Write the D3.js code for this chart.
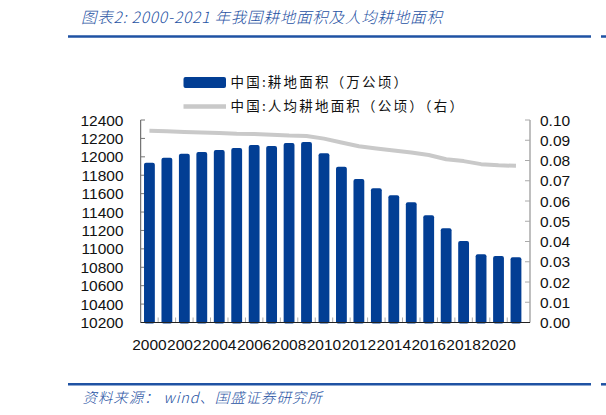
<!DOCTYPE html>
<html>
<head>
<meta charset="utf-8" />
<title></title>
<style>
html, body {
    padding: 0px;
    margin: 0px;
    background: #fff;
}
#chart {
    width: 606px;
    height: 415px;
}
.num {
    font-family: "Liberation Sans", Arial, sans-serif;
    font-size: 15.5px;
    fill: #111;
}
.cjk {
    font-family: "Noto Sans CJK SC", sans-serif;
}
</style>
</head>
<body>
<div id="chart"></div>

<script src="https://cdn.jsdelivr.net/npm/d3@7/dist/d3.min.js"></script>
<script>
// 数据
var years = ["2000","2001","2002","2003","2004","2005","2006","2007","2008","2009","2010",
             "2011","2012","2013","2014","2015","2016","2017","2018","2019","2020","2021"];
// 耕地面积（万公顷）
var landArea = [11936, 11990, 12034, 12052, 12074, 12096, 12128, 12117, 12150, 12161, 12038,
                11893, 11759, 11658, 11582, 11506, 11365, 11224, 11085, 10941, 10922, 10909];
// 人均耕地面积（公顷）
var perCapita = [0.0947, 0.0944, 0.0941, 0.0938, 0.0936, 0.0932, 0.0931, 0.0927, 0.0923, 0.0921, 0.0908,
                 0.0889, 0.0870, 0.0859, 0.0849, 0.0839, 0.0827, 0.0806, 0.0797, 0.0782, 0.0776, 0.0774];
var leftTicks = [10200, 10400, 10600, 10800, 11000, 11200, 11400, 11600, 11800, 12000, 12200, 12400];
var rightTicks = [0, 0.01, 0.02, 0.03, 0.04, 0.05, 0.06, 0.07, 0.08, 0.09, 0.10];
var xLabels = ["2000","2002","2004","2006","2008","2010","2012","2014","2016","2018","2020"];
var legendNames = ["中国:耕地面积（万公顷）", "中国:人均耕地面积（公顷）（右）"];
var titleText = "图表2:  2000-2021 年我国耕地面积及人均耕地面积";
var sourceText = "资料来源： wind、国盛证券研究所";

!(function(){
    "use strict";

    var blue = "#023e94",
        ruleBlue = "#1f52a3",
        gray = "#c9c9c9";

    var svg = d3.select("#chart").append("svg")
        .attr("width", 606)
        .attr("height", 415);

    var x = d3.scaleBand()
        .domain(years)
        .range([140.7, 524.7])
        .paddingInner(0.38)
        .paddingOuter(0.19);

    var yL = d3.scaleLinear().domain([10200, 12400]).range([322.5, 120]);
    var yR = d3.scaleLinear().domain([0, 0.10]).range([322.5, 120]);

    drawFrame();
    drawAxes();
    drawBars();
    drawLine();
    drawLegend();

    function drawFrame() {
        svg.append("text")
            .attr("class", "cjk")
            .attr("x", 81)
            .attr("y", 22.5)
            .style("font-size", "15.5px")
            .style("font-style", "italic")
            .style("font-weight", 300)
            .style("letter-spacing", "0.8px")
            .style("fill", ruleBlue)
            .text(titleText);

        [36.5, 384.3].forEach(function(yy) {
            svg.append("line")
                .attr("x1", 68).attr("x2", 591)
                .attr("y1", yy).attr("y2", yy)
                .attr("stroke", ruleBlue).attr("stroke-width", 2.5);
            svg.append("line")
                .attr("x1", 601).attr("x2", 606)
                .attr("y1", yy).attr("y2", yy)
                .attr("stroke", ruleBlue).attr("stroke-width", 2.5);
        });

        svg.append("text")
            .attr("class", "cjk")
            .attr("x", 82.5)
            .attr("y", 402.5)
            .style("font-size", "14.5px")
            .style("font-style", "italic")
            .style("font-weight", 300)
            .style("letter-spacing", "0.9px")
            .style("fill", ruleBlue)
            .text(sourceText);
    }

    function drawAxes() {
        // left
        svg.append("line")
            .attr("x1", 140.7).attr("x2", 140.7)
            .attr("y1", yL(12400)).attr("y2", yL(10200))
            .attr("stroke", "#555");
        svg.selectAll(".ltick")
            .data(leftTicks)
            .enter().append("line")
            .attr("x1", 140.7).attr("x2", 145)
            .attr("y1", function(d){ return yL(d); })
            .attr("y2", function(d){ return yL(d); })
            .attr("stroke", "#777");
        svg.selectAll(".llab")
            .data(leftTicks)
            .enter().append("text")
            .attr("class", "num")
            .attr("x", 123.5)
            .attr("y", function(d){ return yL(d); })
            .attr("dy", "0.36em")
            .attr("text-anchor", "end")
            .text(function(d){ return d; });

        // right
        svg.append("line")
            .attr("x1", 530).attr("x2", 530)
            .attr("y1", yR(0.10)).attr("y2", yR(0))
            .attr("stroke", "#aaa").attr("stroke-width", 1.5);
        svg.selectAll(".rtick")
            .data(rightTicks)
            .enter().append("line")
            .attr("x1", 525).attr("x2", 530)
            .attr("y1", function(d){ return yR(d); })
            .attr("y2", function(d){ return yR(d); })
            .attr("stroke", "#aaa");
        svg.selectAll(".rlab")
            .data(rightTicks)
            .enter().append("text")
            .attr("class", "num")
            .attr("x", 540)
            .attr("y", function(d){ return yR(d); })
            .attr("dy", "0.36em")
            .text(d3.format(".2f"));

        // bottom
        var step = x.step();
        svg.selectAll(".btick")
            .data(years.slice(1))
            .enter().append("line")
            .attr("x1", function(d){ return x(d) - (step - x.bandwidth()) / 2; })
            .attr("x2", function(d){ return x(d) - (step - x.bandwidth()) / 2; })
            .attr("y1", yL(10200) - 5).attr("y2", yL(10200))
            .attr("stroke", "#aaa");

        svg.selectAll(".xlab")
            .data(xLabels)
            .enter().append("text")
            .attr("class", "num")
            .attr("x", function(d){ return x(d) + x.bandwidth() / 2; })
            .attr("y", 350)
            .attr("text-anchor", "middle")
            .text(function(d){ return d; });
    }

    function drawBars() {
        svg.selectAll(".bar")
            .data(landArea)
            .enter().append("rect")
            .attr("class", "bar")
            .attr("x", function(d, i){ return x(years[i]); })
            .attr("width", x.bandwidth())
            .attr("y", function(d){ return yL(d); })
            .attr("height", function(d){ return yL(10200) - yL(d) + 1; })
            .attr("rx", 2)
            .attr("fill", blue);

        svg.append("line")
            .attr("x1", 140.7).attr("x2", 530)
            .attr("y1", yL(10200)).attr("y2", yL(10200))
            .attr("stroke", "#222");
    }

    function drawLine() {
        var line = d3.line()
            .x(function(d, i){ return x(years[i]) + x.bandwidth() / 2; })
            .y(function(d){ return yR(d); });

        svg.append("path")
            .datum(perCapita)
            .attr("d", line)
            .attr("fill", "none")
            .attr("stroke", gray)
            .attr("stroke-width", 4)
            .attr("stroke-linejoin", "round");
    }

    function drawLegend() {
        svg.append("rect")
            .attr("x", 183.5).attr("y", 77)
            .attr("width", 42.5).attr("height", 11)
            .attr("rx", 2)
            .attr("fill", blue);
        svg.append("line")
            .attr("x1", 183.5).attr("x2", 226)
            .attr("y1", 106.5).attr("y2", 106.5)
            .attr("stroke", gray).attr("stroke-width", 4.5);

        svg.selectAll(".leg")
            .data(legendNames)
            .enter().append("text")
            .attr("class", "cjk")
            .attr("x", 230.5)
            .attr("y", function(d, i){ return i === 0 ? 82.5 : 106.5; })
            .attr("dy", "0.36em")
            .style("font-size", "13.5px")
            .style("letter-spacing", "2.2px")
            .style("fill", "#111")
            .text(function(d){ return d; });
    }

}());
</script>
</body>
</html>
